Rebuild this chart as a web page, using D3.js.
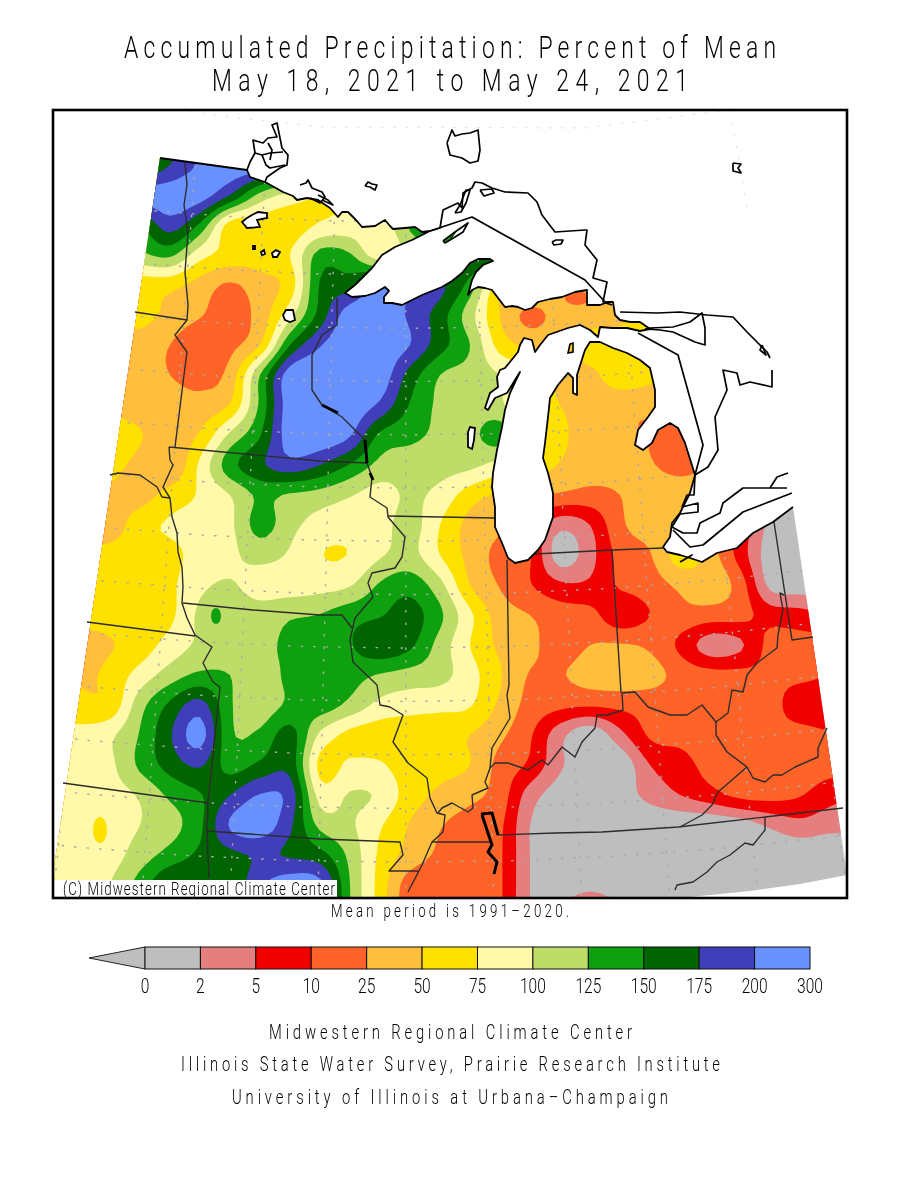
<![CDATA[<!DOCTYPE html>
<html><head><meta charset="utf-8">
<script src="https://cdn.jsdelivr.net/npm/d3@7"></script>
<style>html,body{margin:0;background:#fff}svg{display:block}
text{font-family:Roboto,"Liberation Sans",sans-serif;fill:#000;font-weight:300}
.words{opacity:.995}</style>
</head><body><svg id="c" width="900" height="1200"></svg>
<script>
// ---- legend
const breaks=[0,2,5,10,25,50,75,100,125,150,175,200,300];
const bandColors=["#bebebe","#e57f7f","#f10000","#ff6328","#ffbe3c","#ffe100","#fff9a9","#bedc68","#0fa00f","#006400","#403eb8","#6890ff"];
// ---- percent of mean read off the map, sampled every 30 px
const gridX=d3.range(28).map(i=>50+30*i);
const gridY=d3.range(28).map(j=>105+30*j);
const r105=[150,150,150,150,170,215,260,260,220,150,120,110,120,140,150,150,100,80,60,60,60,60,60,60,60,60,60,60];
const r135=[150,150,150,150,170,215,260,260,220,150,120,110,120,140,150,150,100,80,60,60,60,60,60,60,60,60,60,60];
const r165=[150,150,150,150,175,215,270,260,185,120,100,100,115,140,150,150,100,80,60,60,60,60,60,60,60,60,60,60];
const r195=[150,150,150,210,260,250,175,118,92,75,78,90,120,145,155,150,100,80,60,60,60,60,60,60,60,60,60,60];
const r225=[150,150,150,150,187,145,65,62,60,78,85,82,128,150,160,160,100,70,55,50,50,50,50,50,50,50,50,50];
const r255=[120,120,120,120,130,85,65,62,75,135,128,85,115,130,175,170,80,60,50,50,50,50,50,50,50,50,50,50];
const r285=[60,60,60,60,58,40,23,40,62,152,165,205,190,180,140,62,60,45,45,45,50,55,55,55,55,55,55,55];
const r315=[60,60,60,60,42,27,18,35,92,160,260,280,195,162,110,50,21,35,40,45,60,60,60,60,60,60,60,60];
const r345=[37,37,37,37,25,15,21,50,150,198,260,270,200,160,125,65,45,45,60,60,60,60,60,60,60,60,60,60];
const r375=[37,37,37,35,25,19,35,125,260,280,280,265,165,125,115,100,80,45,45,62,55,50,50,50,50,50,50,50];
const r405=[40,40,40,37,38,35,52,130,260,270,270,195,148,120,112,105,62,50,40,37,37,37,37,37,37,37,37,37];
const r435=[70,70,70,52,36,53,105,148,260,280,210,145,132,120,118,136,85,56,40,38,25,20,25,30,30,30,30,30];
const r465=[58,58,58,42,27,80,140,170,190,175,148,118,112,110,106,90,70,48,38,35,27,20,25,30,25,15,8,8];
const r495=[45,45,45,40,60,78,100,130,122,115,102,90,104,92,62,45,30,23,20,25,38,40,38,20,2,1,1,1];
const r525=[35,35,35,65,78,85,95,135,108,90,85,90,110,75,42,30,10,3,5,22,35,40,22,9,1.5,1,1,1];
const r555=[60,55,60,65,68,85,95,108,97,76,76,97,108,75,42,20,11,1,4,15,24,60,37,8,1,1,1,1];
const r585=[55,55,58,62,70,95,102,90,88,90,98,128,140,108,50,24,11,6,6,12,18,30,40,18,1.5,1,1,1];
const r615=[60,60,60,62,70,105,115,112,122,126,140,148,160,130,80,38,25,17,15,6.5,10,20,18,15,8,7,5,5];
const r645=[45,38,48,62,85,105,112,118,130,135,148,168,155,115,75,45,32,17,25,27,22,9,3.5,4.5,14,15,15,15];
const r675=[70,45,58,85,112,130,125,110,132,140,135,123,115,108,85,52,24,24,35,40,35,20,15,14,13,13,10,10];
const r705=[85,60,58,115,155,185,128,112,130,138,118,93,85,82,77,45,20,14,12,14,16,17,17,17,15,7.5,7,7];
const r735=[80,82,95,127,172,240,130,130,160,95,68,62,60,57,50,30,12,3,0.5,4,12,14,14,14,14,15,11,11];
const r765=[85,87,95,130,160,178,140,155,165,68,80,78,60,57,50,20,9,2.5,0.5,0.5,5,8,15,20,20,17,15,15];
const r795=[85,85,90,103,130,148,175,205,190,90,102,96,62,45,32,18,3.5,1,0.5,1,3,5,8,14,15,11,7,5];
const r825=[100,85,90,100,115,145,210,260,180,118,104,78,48,27,18,13,2,0.5,0.5,0.5,0.5,0.5,0.5,1,2.5,4,3,3];
const r855=[100,85,90,112,135,155,168,178,172,160,118,70,40,22,15,12,2,0.5,0.5,0.5,0.5,0.5,0.5,0.5,0.5,0.5,0.5,0.5];
const r885=[68,90,100,135,175,170,155,195,260,230,125,65,17,14,13,12,2,1,1.5,1,0.5,0.5,0.5,0.5,0.5,0.5,0.5,0.5];
const r915=[60,90,100,135,175,170,155,195,260,230,125,65,15,14,13,12,2,3,5,2.5,0.5,0.5,0.5,0.5,0.5,0.5,0.5,0.5];
const percentRows=[r105,r135,r165,r195,r225,r255,r285,r315,r345,r375,r405,r435,r465,r495,r525,r555,r585,r615,r645,r675,r705,r735,r765,r795,r825,r855,r885,r915];
// small features finer than the sampling: [x,y,rx,ry,percent]
const spots=[[216,616,5,8,135],[333,553,7,7,65],[100,830,7,13,65],[643,427,5,7,20],[577,298,12,7,20]];
// ---- geography, in figure units
const coast=[[160,158],[247,170],[250,177],[265,182],[283,192],[293,196],[297,200],[307,198],[318,200],[330,208],[338,217],[342,212],[348,212],[356,220],[362,227],[375,226],[385,220],[390,226],[393,229],[405,228],[415,227],[422,232],[430,231],[412,240],[395,247],[382,255],[372,268],[355,285],[345,293],[352,297],[365,296],[375,293],[385,287],[389,291],[384,297],[384,303],[392,303],[402,305],[412,300],[422,295],[432,291],[442,287],[452,281],[462,273],[470,263],[478,259],[490,259],[493,261],[483,265],[476,272],[472,280],[468,295],[472,290],[478,287],[485,288],[492,290],[498,298],[505,307],[512,306],[518,307],[525,310],[532,308],[538,302],[550,299],[562,297],[575,292],[587,290],[587,305],[600,305],[608,302],[613,302],[615,315],[620,320],[630,322],[640,322],[650,329],[640,331],[627,328],[612,328],[600,327],[598,337],[590,330],[580,325],[568,328],[548,335],[540,345],[535,352],[532,340],[524,338],[520,345],[518,352],[505,368],[500,370],[497,377],[498,387],[490,393],[485,408],[488,410],[495,398],[507,393],[515,380],[520,372],[517,378],[510,393],[505,410],[502,427],[497,450],[493,473],[492,487],[495,507],[495,527],[502,543],[508,558],[515,563],[528,560],[538,550],[545,540],[553,517],[553,493],[548,473],[543,458],[545,443],[548,417],[550,398],[558,385],[568,373],[573,378],[573,393],[577,395],[577,375],[585,350],[590,342],[600,342],[613,348],[627,353],[640,360],[650,368],[655,390],[655,407],[648,417],[638,430],[635,445],[643,450],[652,443],[658,430],[670,423],[678,428],[685,443],[695,475],[690,493],[680,513],[672,523],[670,537],[663,547],[667,552],[680,555],[690,558],[702,562],[717,553],[737,548],[753,533],[773,522],[793,507]];
const outerEdge=[[847,875],[800,884],[750,891],[680,898],[53,898],[54,868]];
const lakesInside=[
 [[468,432],[470,427],[475,428],[474,440],[472,449],[468,447]],
 [[283,315],[286,310],[293,310],[295,320],[290,322],[285,320]],
 [[242,222],[247,218],[252,215],[258,212],[267,213],[267,218],[257,220],[260,227],[247,228]],
 [[261,252],[264,250],[265,254],[262,255]],[[272,253],[276,250],[280,252],[277,257],[273,257]],[[253,246],[255,246],[255,249],[253,249]]];
const landIslands=[[[568,353],[570,344],[573,343],[573,352]],[[443,241],[450,236],[456,232],[452,238],[446,242]]];
const otherShore=[
 [[247,170],[250,162],[255,153],[253,140],[263,143],[268,138],[277,137],[272,125],[277,123],[280,138],[282,148],[288,155],[287,165],[280,168],[267,177],[265,182]],
 [[255,153],[262,155],[270,153],[283,152]],[[262,155],[266,165],[270,168],[285,165]],[[268,143],[272,150],[270,160]],
 [[300,185],[306,183],[308,180],[312,188],[322,192],[325,197],[320,203],[310,198]],[[318,195],[328,200],[333,205],[322,200]],
 [[447,143],[452,130],[455,136],[462,134],[470,133],[478,130],[480,150],[478,161],[470,163],[462,158],[450,155],[447,143]],
 [[365,186],[368,182],[372,184],[377,185],[375,190],[370,187],[365,186]],
 [[733,163],[741,164],[738,168],[741,173],[733,171],[733,163]],
 [[552,242],[556,240],[563,240],[561,244],[554,245],[552,242]],
 [[443,241],[455,232],[468,223],[463,232],[455,237],[445,243],[443,241]],
 [[430,231],[440,228],[443,210],[458,203],[462,208],[463,193],[472,188],[475,182],[482,183],[492,188],[505,192],[528,193],[537,202],[542,215],[555,232],[585,230],[587,230],[585,245],[597,260],[593,278],[607,282],[603,302],[613,302]],
 [[455,213],[460,205],[466,190],[470,190],[466,203],[461,212],[455,213]],[[480,190],[492,189],[494,193],[484,196],[480,190]],
 [[620,312],[657,313],[680,312],[707,315],[733,317],[747,332],[757,342],[767,352],[770,358]],[[762,345],[760,350],[766,355],[762,345]],
 [[772,370],[772,387],[750,382],[740,385],[737,373],[723,370],[727,390],[715,417],[718,450],[708,467],[695,475]],
 [[645,329],[650,328],[673,327],[690,322],[702,313],[705,328],[705,345],[695,342],[673,332],[660,330],[645,329]],
 [[695,475],[694,495],[687,495],[682,507],[698,503],[698,512],[680,514],[672,527],[683,533],[697,533],[700,523],[720,513],[723,503],[743,488],[770,488],[787,488]],
 [[770,488],[777,477],[788,473]],[[792,493],[743,512],[703,545],[690,547],[673,530]],
 [[680,562],[692,555],[682,561]],
 [[430,231],[472,217],[585,280],[606,303],[612,305]],
 [[638,333],[678,355],[703,445],[695,475]]];
const stateLines=[
 [[135,312],[187,320]],
 [[185,163],[187,185],[184,205],[188,232],[185,272],[188,305],[187,320],[175,335],[187,352],[184,375],[175,447]],
 [[169,447],[170,460],[173,465],[163,487],[170,498],[172,517],[177,533],[178,552],[182,567],[183,587],[182,603],[187,618],[195,635],[212,647],[203,663],[213,682],[220,687],[208,802],[207,832],[209,878]],
 [[110,475],[118,473],[140,475],[157,487],[162,497],[170,498]],
 [[169,447],[320,461],[367,463]],
 [[183,603],[253,610],[320,615],[342,615],[352,628]],
 [[87,622],[195,636]],
 [[63,783],[208,803]],
 [[207,831],[320,839],[400,842],[403,855],[389,871],[418,871]],
 [[337,298],[337,325],[322,335],[312,355],[312,390],[322,405],[342,417],[365,440],[367,463],[372,477],[370,497],[387,508],[388,517],[405,537],[402,557],[395,568],[372,573],[368,583],[373,597],[355,618],[350,640],[353,662],[377,685],[380,705],[390,707],[403,715],[393,742],[408,763],[427,778],[430,798],[437,813],[445,815],[443,832],[432,842],[422,865],[408,892]],
 [[388,516],[495,518]],
 [[507,560],[509,685],[507,695],[510,718],[492,748],[490,768],[485,782],[488,788],[472,795],[473,808],[468,812],[452,803],[442,808],[438,813]],
 [[490,768],[495,763],[508,763],[528,770],[542,760],[548,765],[562,747],[575,757],[582,742],[595,728],[597,715],[607,715],[623,710],[622,693]],
 [[535,554],[612,550],[663,548]],
 [[612,550],[621,693]],
 [[622,693],[635,692],[648,707],[670,715],[687,715],[702,705],[716,722],[728,713],[732,690],[743,692],[747,675],[757,663],[777,648],[778,635],[783,610],[780,593],[784,595]],
 [[774,522],[792,640],[813,637]],
 [[716,722],[716,735],[727,752],[747,767],[753,778],[765,782],[773,775],[782,775],[795,767],[818,757],[818,748],[827,728]],
 [[747,767],[718,792],[712,805],[702,815],[680,827]],
 [[432,842],[490,842]],[[498,835],[555,833],[602,832],[678,827],[765,817],[843,808]],
 [[765,817],[765,830],[753,845],[745,843],[730,855],[717,862],[707,872],[693,882],[677,885],[675,890]]];
const thickWater=[[[481,814],[492,813],[498,835]],[[482,815],[492,845],[488,852],[497,862],[494,874]],[[322,405],[330,409],[338,413]],[[365,440],[367,463]],[[370,473],[373,480]]];
const faintGrid=[[[178,110],[237,118],[322,127],[585,128],[730,110]],[[730,110],[747,207]]];
// ---- legend and text
const legendLabels=["0","2","5","10","25","50","75","100","125","150","175","200","300"];
const titleLines=[["Accumulated Precipitation: Percent of Mean",124,776,58],["May 18, 2021 to May 24, 2021",212,688,91]];
const noteLines=[["Mean period is 1991–2020.",331,569,917,18],["Midwestern Regional Climate Center",269,632,1039,20],["Illinois State Water Survey, Prairie Research Institute",181,720,1071,20],["University of Illinois at Urbana–Champaign",232,668,1104,20]];

const svg=d3.select("#c");
const fig=d3.scaleLinear().domain([0,900]).range([0,900]);
const line=d3.line().x(d=>fig(d[0])).y(d=>fig(d[1]));
const levelOf=d3.scaleLinear().domain(breaks).range(d3.range(13)).clamp(true);
const colorOf=d3.scaleThreshold().domain(breaks.slice(1,-1)).range(bandColors);

// smooth resampling of the level field for drawing
const f=5,cols=gridX.length,rows=gridY.length,nx=(cols-1)*f+1,ny=(rows-1)*f+1;
const L=percentRows.map(r=>r.map(levelOf));
const cr=(a,b,c,d,t)=>b+.5*t*(c-a+t*(2*a-5*b+4*c-d+t*(3*(b-c)+d-a)));
const at=(i,j)=>L[Math.max(0,Math.min(rows-1,j))][Math.max(0,Math.min(cols-1,i))];
const field=new Float64Array(nx*ny);
for(let y=0;y<ny;y++){const j=Math.floor(y/f),v=y/f-j;
 for(let x=0;x<nx;x++){const i=Math.floor(x/f),u=x/f-i;
  const c=[-1,0,1,2].map(o=>cr(at(i-1,j+o),at(i,j+o),at(i+1,j+o),at(i+2,j+o),u));
  field[y*nx+x]=Math.max(0,Math.min(12,cr(c[0],c[1],c[2],c[3],v)));}}
const sx=d3.scaleLinear().domain([0,nx-1]).range(d3.extent(gridX));
const sy=d3.scaleLinear().domain([0,ny-1]).range(d3.extent(gridY));
const gridPath=d3.geoPath(d3.geoTransform({point(x,y){this.stream.point(sx(x-.5),sy(y-.5));}}));
const bands=d3.contours().size([nx,ny]).thresholds(d3.range(0,12))(field);

const landD=[coast.concat(outerEdge),...lakesInside,...landIslands].map(p=>line(p)+"Z").join("");
svg.append("defs").append("clipPath").attr("id","land").append("path").attr("d",landD).attr("clip-rule","evenodd");
svg.append("g").selectAll("path").data(faintGrid).join("path").attr("d",line).attr("fill","none").attr("stroke","#e6e6e6").attr("stroke-width",1.2).attr("stroke-dasharray","3 9");
const map=svg.append("g").attr("clip-path","url(#land)");
map.selectAll("path.b").data(bands).join("path").attr("class","b").attr("d",gridPath).attr("fill",d=>bandColors[d.value]);
map.selectAll("ellipse").data(spots).join("ellipse").attr("cx",d=>fig(d[0])).attr("cy",d=>fig(d[1])).attr("rx",d=>d[2]).attr("ry",d=>d[3]).attr("fill",d=>colorOf(d[4]));

// graticule on a conic projection calibrated on two state corners
const proj=d3.geoConicConformal().parallels([40,48]).rotate([90,0]).scale(1).translate([0,0]);
const a1=proj([-94.62,37]),a2=proj([-84.8,41.7]),p1=[208,803],p2=[612,550];
const k=Math.hypot(p2[0]-p1[0],p2[1]-p1[1])/Math.hypot(a2[0]-a1[0],a2[1]-a1[1]);
proj.scale(k).translate([p1[0]-a1[0]*k,p1[1]-a1[1]*k]).precision(.3);
map.append("path").datum(d3.geoGraticule().step([2,1]).extent([[-110,30],[-70,56]])()).attr("d",d3.geoPath(proj)).attr("fill","none").attr("stroke","#a9a9a9").attr("stroke-width",1.4).attr("stroke-dasharray","2.5 10");

svg.append("g").selectAll("path").data(lakesInside).join("path").attr("d",d=>line(d)+"Z").attr("fill","#fff").attr("stroke","#000").attr("stroke-width",1.8);
const ol=svg.append("g").attr("fill","none").attr("stroke-linejoin","round");
ol.selectAll("path.s").data(stateLines).join("path").attr("class","s").attr("d",line).attr("stroke","#2c2c2c").attr("stroke-width",1.4);
ol.append("path").attr("d",line(coast)).attr("stroke","#000").attr("stroke-width",1.8);
ol.selectAll("path.o").data(otherShore).join("path").attr("class","o").attr("d",line).attr("stroke","#000").attr("stroke-width",1.7);
ol.selectAll("path.t").data(thickWater).join("path").attr("class","t").attr("d",line).attr("stroke","#000").attr("stroke-width",3);
svg.append("path").attr("d",line(landIslands[0])+"Z").attr("fill","none").attr("stroke","#000").attr("stroke-width",1.6);

// frame and label
svg.append("rect").attr("x",53).attr("y",880).attr("width",284).attr("height",18).attr("fill","#fff");
svg.append("rect").attr("x",53).attr("y",110).attr("width",794).attr("height",788).attr("fill","none").attr("stroke","#000").attr("stroke-width",2.6);
const words=svg.append("g").attr("class","words");
const squeeze=.74;
const txt=(s,x0,x1,y,size)=>words.append("text").attr("transform",`translate(${x0},${y}) scale(${squeeze},1)`).attr("font-size",size).attr("textLength",(x1-x0)/squeeze).attr("lengthAdjust","spacing").text(s);
txt("(C) Midwestern Regional Climate Center",63,335,895,18);
titleLines.forEach(t=>txt(t[0],t[1],t[2],t[3],31));
noteLines.forEach(t=>txt(t[0],t[1],t[2],t[3],t[4]));

// legend
const lx=d3.scaleLinear().domain([0,12]).range([145,810]);
const leg=svg.append("g");
leg.append("path").attr("d",line([[lx(0),947],[89,958],[lx(0),969]])+"Z").attr("fill",bandColors[0]).attr("stroke","#222").attr("stroke-width",1);
leg.selectAll("rect").data(bandColors).join("rect").attr("x",(d,i)=>lx(i)).attr("y",947).attr("width",lx(1)-lx(0)).attr("height",22).attr("fill",d=>d).attr("stroke","#111").attr("stroke-width",1);
words.selectAll("text.tick").data(legendLabels).join("text").attr("class","tick").attr("transform",(d,i)=>`translate(${lx(i)},993) scale(${squeeze},1)`).attr("text-anchor","middle").attr("font-size",21).text(d=>d);
</script></body></html>]]>
